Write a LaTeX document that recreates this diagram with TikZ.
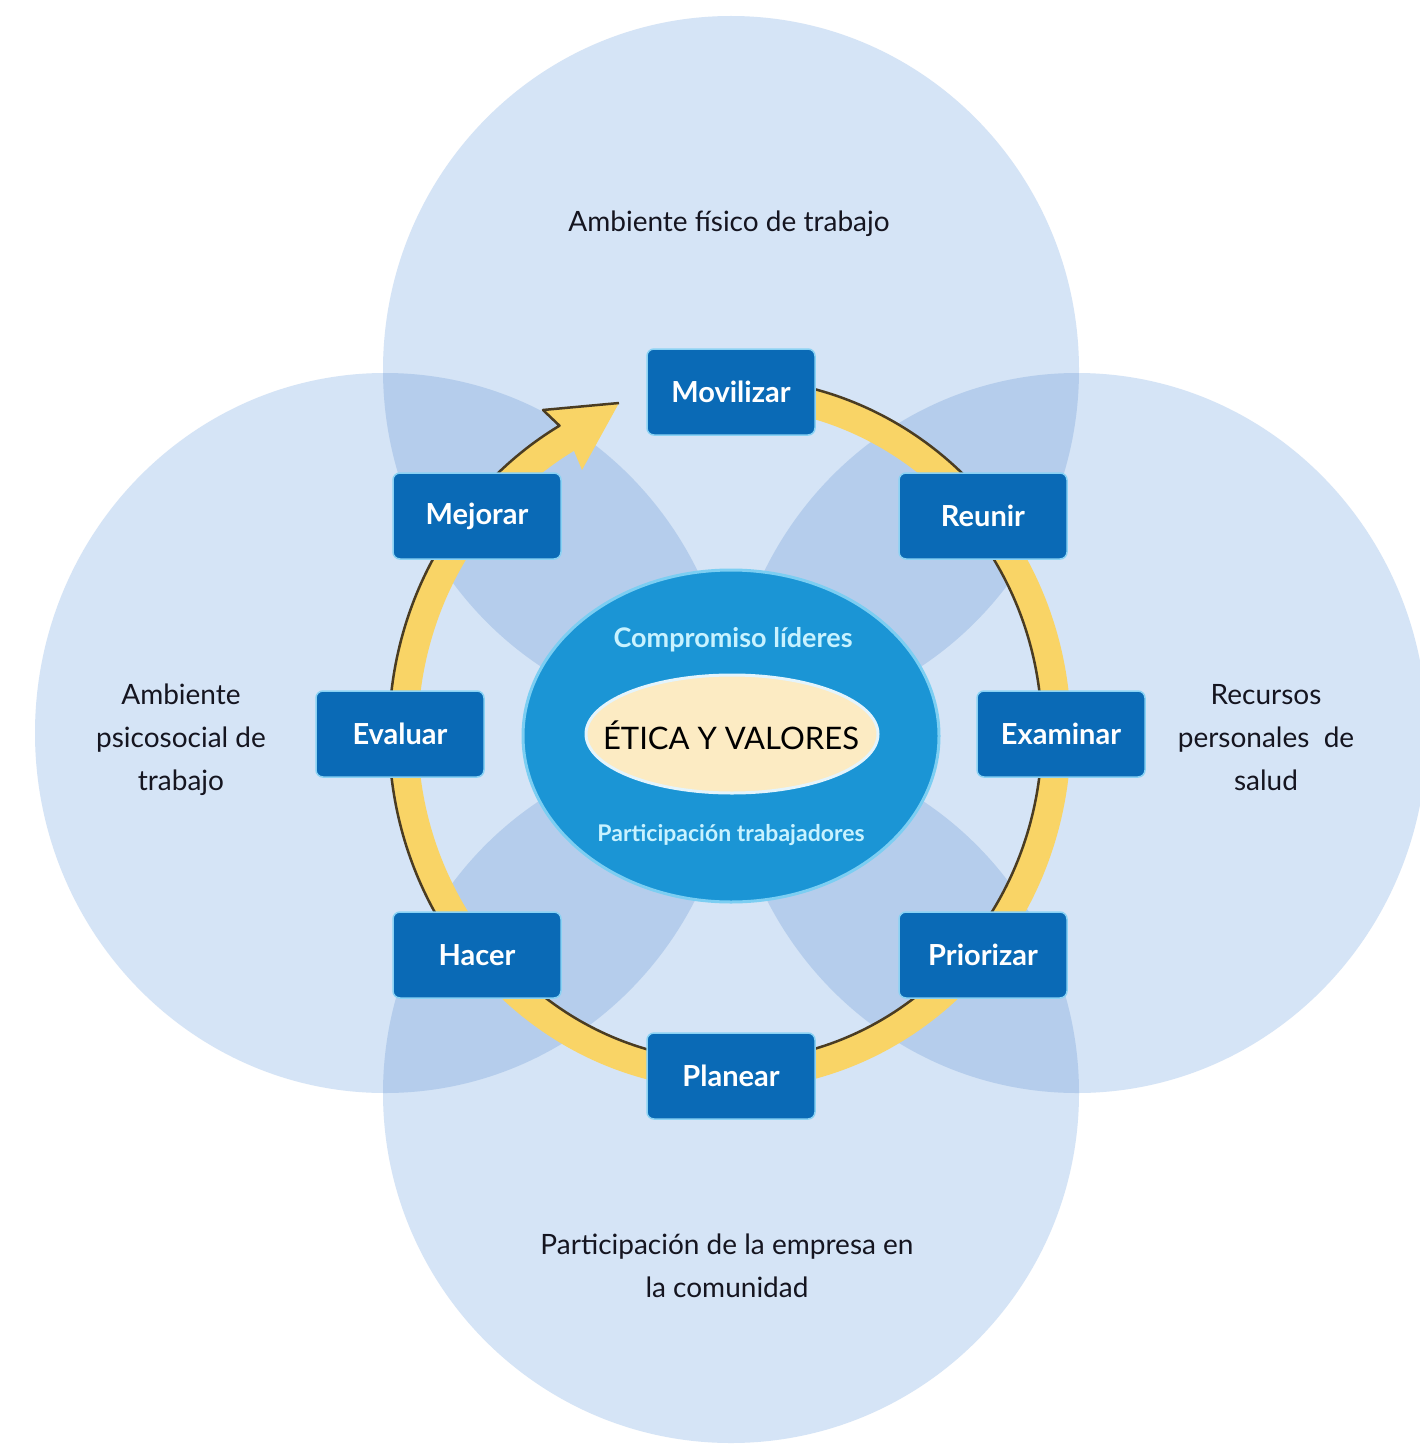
\documentclass[tikz,border=0pt]{standalone}
\usepackage{fontspec}
\setmainfont{Lato}
\usetikzlibrary{shapes.geometric,calc}
\definecolor{lightc}{HTML}{D5E4F6}
\definecolor{medc}{HTML}{B5CDEC}
\definecolor{boxblue}{HTML}{0A6AB6}
\definecolor{boxedge}{HTML}{8AD2F4}
\definecolor{ringy}{HTML}{F9D466}
\definecolor{ringline}{HTML}{4A3C22}
\definecolor{ellblue}{HTML}{1B95D5}
\definecolor{elledge}{HTML}{7CCEF2}
\definecolor{cream}{HTML}{FCEBC3}
\definecolor{creamedge}{HTML}{E4F4FC}
\definecolor{cyantxt}{HTML}{C8F2FF}
\definecolor{labeltxt}{HTML}{151520}
\tikzset{
  stepbox/.style={draw=boxedge, line width=1.5pt, fill=boxblue, rounded corners=7pt,
    minimum width=168pt, minimum height=86pt, inner sep=0pt,
    text=white, font=\bfseries\fontsize{29}{34}\selectfont},
  outlabel/.style={text=labeltxt, align=center, inner sep=0pt,
    font=\fontsize{28}{43}\selectfont},
  ringedge/.style={draw=ringline, line width=2.5pt, line join=round},
  coretext/.style={text=cyantxt, inner sep=0pt}
}
\begin{document}
\begin{tikzpicture}[x=1pt,y=-1pt]
\useasboundingbox (0,0) rectangle (1420,1455);
\fill[white] (0,0) rectangle (1420,1455);
% four large shapes
\fill[lightc] (731,370) ellipse [x radius=348, y radius=354];
\fill[lightc] (731,1093) ellipse [x radius=348, y radius=350];
\fill[lightc] (385,733) ellipse [x radius=350, y radius=360];
\fill[lightc] (1077,733) ellipse [x radius=350, y radius=360];
% overlaps
\begin{scope}
  \clip (731,370) ellipse [x radius=348, y radius=354];
  \fill[medc] (385,733) ellipse [x radius=350, y radius=360];
  \fill[medc] (1077,733) ellipse [x radius=350, y radius=360];
\end{scope}
\begin{scope}
  \clip (731,1093) ellipse [x radius=348, y radius=350];
  \fill[medc] (385,733) ellipse [x radius=350, y radius=360];
  \fill[medc] (1077,733) ellipse [x radius=350, y radius=360];
\end{scope}
% ring with arrow head
\coordinate (rc) at (730,734);
\coordinate (bo) at (543,410);
\coordinate (tip) at (619,403);
\coordinate (bi) at (582,470);
\fill[ringy] ($(rc)+(-85:341 and 356)$)
  arc[start angle=-85, end angle=240, x radius=341, y radius=356]
  -- (bo) -- (tip) -- (bi)
  -- ($(rc)+(240:312 and 327)$)
  arc[start angle=240, end angle=-85, x radius=312, y radius=327] -- cycle;
\draw[ringedge] ($(rc)+(-88:341 and 356)$)
  arc[start angle=-88, end angle=-41, x radius=341, y radius=356];
\draw[ringedge] ($(rc)+(-41:312 and 327)$)
  arc[start angle=-41, end angle=139, x radius=312, y radius=327];
\draw[ringedge] ($(rc)+(139:341 and 356)$)
  arc[start angle=139, end angle=240, x radius=341, y radius=356]
  -- (bo) -- (tip);
% step boxes
\node[stepbox] (movilizar) at (731,392) {Movilizar};
\node[stepbox] (reunir) at (983,516) {Reunir};
\node[stepbox] (examinar) at (1061,734) {Examinar};
\node[stepbox] (priorizar) at (983,955) {Priorizar};
\node[stepbox] (planear) at (731,1076) {Planear};
\node[stepbox] (hacer) at (477,955) {Hacer};
\node[stepbox] (evaluar) at (400,734) {Evaluar};
\node[stepbox] (mejorar) at (477,516) {Mejorar};
% centre
\filldraw[fill=ellblue, draw=elledge, line width=3pt] (731,736) ellipse [x radius=208, y radius=166];
\filldraw[fill=cream, draw=creamedge, line width=3pt] (732,734) ellipse [x radius=146, y radius=59];
\node[font=\fontsize{31}{36}\selectfont, text=black, inner sep=0pt] (etica) at (731,735) {ÉTICA Y VALORES};
\node[coretext, font=\bfseries\fontsize{27}{32}\selectfont] (lideres) at (733,640) {Compromiso líderes};
\node[coretext, font=\bfseries\fontsize{23}{28}\selectfont] (trabajadores) at (731,835) {Participación trabajadores};
% outer labels
\node[outlabel] (fisico) at (729,224) {Ambiente físico de trabajo};
\node[outlabel] (psico) at (181,740) {Ambiente\\psicosocial de\\trabajo};
\node[outlabel] (recursos) at (1266,738) {Recursos\\personales\ \ de\\salud};
\node[outlabel] (comunidad) at (727,1266) {Participación de la empresa en\\la comunidad};
\end{tikzpicture}
\end{document}
